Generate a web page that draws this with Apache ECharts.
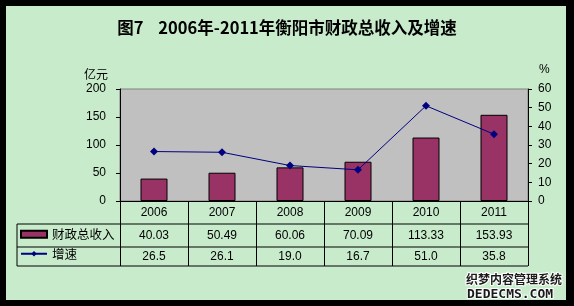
<!DOCTYPE html>
<html>
<head>
<meta charset="utf-8">
<script src="https://cdn.jsdelivr.net/npm/echarts@6/dist/echarts.min.js"></script>
<style>
  html, body { margin: 0; padding: 0; background: #000; }
  #wrap { position: relative; width: 574px; height: 306px; background: #000; }
  #panel { position: absolute; left: 6px; top: 6px; width: 560px; height: 294px; background: #C8ECCB; }
  #main { position: absolute; left: 0; top: 0; width: 574px; height: 306px; }
</style>
</head>
<body>
<div id="wrap">
  <div id="panel"></div>
  <div id="main"></div>
</div>
<script>
var years = ['2006', '2007', '2008', '2009', '2010', '2011'];
var revenue = [40.03, 50.49, 60.06, 70.09, 113.33, 153.93];   // 财政总收入 亿元
var growth = [26.5, 26.1, 19.0, 16.7, 51.0, 35.8];            // 增速 %
var leftTicks = { min: 0, max: 200, step: 50 };
var rightTicks = { min: 0, max: 60, step: 10 };

var chart = echarts.init(document.getElementById('main'), null, { renderer: 'canvas' });

// table lines (the grid is fixed at left 120 / right 528 / bottom 201)
function hline(y) {
    return { type: 'line', silent: true, shape: { x1: 17, y1: y, x2: 528, y2: y },
             style: { stroke: '#000', lineWidth: 1 } };
}

var option = {
    backgroundColor: 'transparent',
    animation: false,
    title: {
        text: '图7    2006年-2011年衡阳市财政总收入及增速',
        left: 'center',
        top: 14,
        textStyle: { fontFamily: 'Noto Sans CJK SC', fontSize: 16.5, fontWeight: 'bold', color: '#000' }
    },
    grid: {
        left: 120, right: 46, top: 89, bottom: 105,
        show: true, backgroundColor: '#C0C0C0', borderColor: '#808080', borderWidth: 1
    },
    legend: {
        orient: 'vertical',
        left: 20, top: 228, padding: 0,
        itemWidth: 26, itemHeight: 7, itemGap: 7,
        textStyle: { fontFamily: 'Noto Sans CJK SC', fontSize: 12.5, color: '#000' },
        data: [{ name: '财政总收入', icon: 'rect' }, { name: '增速' }]
    },
    xAxis: {
        type: 'category',
        data: years,
        axisLine: { lineStyle: { color: '#000' } },
        axisTick: { show: true, interval: 0, length: 65, lineStyle: { color: '#000' } },
        axisLabel: {
            interval: 0, margin: 0,
            formatter: function (v, i) {
                return '{a|' + v + '}\n{b|' + revenue[i].toFixed(2) + '}\n{c|' + growth[i].toFixed(1) + '}';
            },
            rich: {
                a: { fontFamily: 'Arial', fontSize: 12, color: '#000', lineHeight: 23 },
                b: { fontFamily: 'Arial', fontSize: 12, color: '#000', lineHeight: 23 },
                c: { fontFamily: 'Arial', fontSize: 12, color: '#000', lineHeight: 20 }
            }
        }
    },
    yAxis: [{
        type: 'value',
        min: leftTicks.min, max: leftTicks.max, interval: leftTicks.step,
        name: '亿元',
        nameLocation: 'end', nameGap: 9,
        nameTextStyle: { fontFamily: 'Noto Sans CJK SC', fontSize: 12, color: '#000', align: 'right', padding: [0, 12, 0, 0] },
        axisLine: { show: true, lineStyle: { color: '#000' } },
        axisTick: { show: true, length: 4, lineStyle: { color: '#000' } },
        axisLabel: { margin: 14, fontFamily: 'Arial', fontSize: 12, color: '#000' },
        splitLine: { show: false }
    }, {
        type: 'value',
        position: 'right',
        min: rightTicks.min, max: rightTicks.max, interval: rightTicks.step,
        name: '%',
        nameLocation: 'end', nameGap: 13,
        nameTextStyle: { fontFamily: 'Arial', fontSize: 12, color: '#000', align: 'left', padding: [0, 0, 0, 11] },
        axisLine: { show: true, lineStyle: { color: '#000' } },
        axisTick: { show: true, length: 4, lineStyle: { color: '#000' } },
        axisLabel: { margin: 10, fontFamily: 'Arial', fontSize: 12, color: '#000' },
        splitLine: { show: false }
    }],
    series: [{
        name: '财政总收入',
        type: 'bar',
        yAxisIndex: 0,
        barWidth: 27,
        data: revenue,
        itemStyle: { color: '#993366', borderColor: '#000', borderWidth: 1 }
    }, {
        name: '增速',
        type: 'line',
        yAxisIndex: 1,
        data: growth,
        symbol: 'diamond',
        symbolSize: 8,
        lineStyle: { color: '#000080', width: 1 },
        itemStyle: { color: '#000080' }
    }],
    graphic: [
        hline(224), hline(247), hline(266),
        { type: 'line', silent: true, shape: { x1: 17, y1: 224, x2: 17, y2: 266 },
          style: { stroke: '#000', lineWidth: 1 } },
        { type: 'text', silent: true, left: 465, top: 272,
          style: { text: '织梦内容管理系统', font: 'bold 12px "Noto Sans CJK SC"', fill: '#1a1a1a',
                   stroke: '#ffffff', lineWidth: 2 } },
        { type: 'text', silent: true, left: 466, top: 287,
          style: { text: 'DEDECMS.COM', font: 'bold 13px "DejaVu Sans Mono"', fill: '#1a1a1a',
                   stroke: '#ffffff', lineWidth: 2 } }
    ]
};
chart.setOption(option);
</script>
</body>
</html>
